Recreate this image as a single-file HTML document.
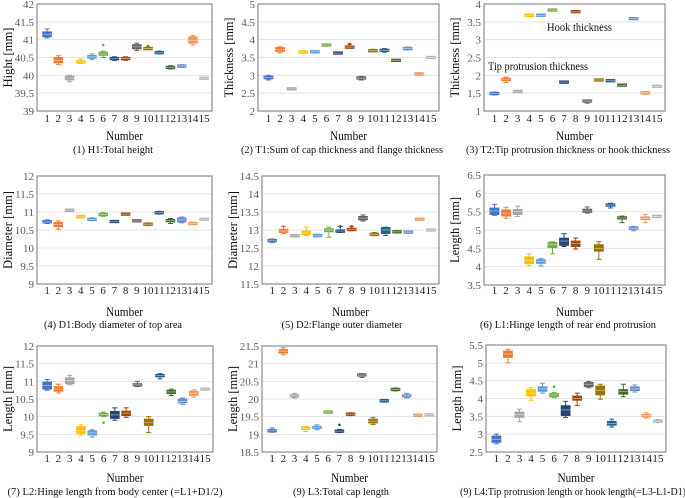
<!DOCTYPE html>
<html><head><meta charset="utf-8"><style>
html,body{margin:0;padding:0;background:#fff;}
svg{display:block;}
svg text{font-family:"Liberation Serif","DejaVu Serif",serif;}
</style></head><body>
<svg id="fig" width="685" height="498" viewBox="0 0 685 498" font-family="Liberation Serif, serif" xmlns="http://www.w3.org/2000/svg"></svg>
<script>
const categories=['1','2','3','4','5','6','7','8','9','10','11','12','13','14','15'];
const colors=['#4472c4','#ed7d31','#a5a5a5','#ffc000','#5b9bd5','#70ad47','#264478','#9e480e','#636363','#997300','#255e91','#43682b','#698ed0','#f1975a','#b7b7b7'];
// [min,q1,median,q3,max]
const h1Stats=[[41.05,41.08,41.15,41.22,41.3],[40.3,40.35,40.42,40.5,40.55],[39.82,39.87,39.92,39.98,40.0],[40.33,40.35,40.37,40.4,40.45],[40.45,40.48,40.52,40.56,40.6],[40.5,40.56,40.6,40.65,40.68],[40.42,40.44,40.47,40.5,40.52],[40.42,40.44,40.47,40.5,40.52],[40.7,40.74,40.8,40.86,40.9],[40.72,40.73,40.75,40.77,40.8],[40.6,40.61,40.63,40.66,40.68],[40.18,40.2,40.22,40.24,40.27],[40.22,40.24,40.26,40.28,40.3],[40.85,40.9,40.98,41.08,41.12],[39.9,39.91,39.92,39.93,39.95]];
const t1Stats=[[2.87,2.9,2.94,2.98,3.0],[3.63,3.67,3.72,3.78,3.8],[2.6,2.61,2.62,2.63,2.64],[3.62,3.64,3.65,3.67,3.69],[3.64,3.65,3.66,3.67,3.68],[3.83,3.84,3.85,3.86,3.87],[3.6,3.61,3.62,3.64,3.65],[3.76,3.77,3.79,3.81,3.87],[2.87,2.9,2.92,2.95,2.97],[3.66,3.67,3.69,3.71,3.73],[3.65,3.67,3.7,3.73,3.75],[3.4,3.41,3.42,3.43,3.44],[3.71,3.73,3.75,3.77,3.79],[3.0,3.02,3.04,3.06,3.08],[3.48,3.49,3.5,3.51,3.52]];
const t2Stats=[[1.45,1.47,1.49,1.51,1.53],[1.8,1.85,1.89,1.92,1.95],[1.53,1.54,1.55,1.56,1.57],[3.65,3.67,3.68,3.7,3.72],[3.66,3.67,3.68,3.7,3.71],[3.81,3.82,3.83,3.84,3.85],[1.78,1.8,1.81,1.82,1.84],[3.76,3.77,3.78,3.8,3.81],[1.22,1.26,1.28,1.3,1.31],[1.84,1.86,1.87,1.88,1.89],[1.83,1.84,1.85,1.86,1.88],[1.7,1.71,1.72,1.74,1.75],[3.57,3.58,3.59,3.6,3.61],[1.47,1.49,1.51,1.53,1.54],[1.66,1.68,1.69,1.7,1.72]];
const d1Stats=[[10.68,10.7,10.72,10.76,10.78],[10.52,10.59,10.65,10.71,10.75],[11.03,11.04,11.05,11.06,11.07],[10.84,10.85,10.87,10.89,10.91],[10.76,10.77,10.79,10.82,10.84],[10.88,10.9,10.93,10.96,10.98],[10.71,10.72,10.73,10.75,10.76],[10.92,10.93,10.94,10.95,10.97],[10.73,10.74,10.75,10.77,10.78],[10.62,10.64,10.66,10.68,10.7],[10.94,10.96,10.98,11.0,11.02],[10.68,10.74,10.76,10.78,10.82],[10.7,10.72,10.78,10.84,10.86],[10.65,10.66,10.68,10.7,10.72],[10.78,10.79,10.8,10.81,10.83]];
const d2Stats=[[12.65,12.68,12.7,12.73,12.75],[12.9,12.93,12.97,13.02,13.1],[12.81,12.82,12.84,12.86,12.87],[12.85,12.87,12.92,12.97,13.08],[12.81,12.82,12.84,12.87,12.88],[12.8,12.95,13.0,13.04,13.08],[12.93,12.94,12.97,13.0,13.1],[12.98,12.99,13.01,13.04,13.1],[13.25,13.28,13.33,13.38,13.42],[12.84,12.85,12.88,12.91,12.93],[12.85,12.9,13.0,13.07,13.08],[12.92,12.93,12.95,12.97,12.98],[12.91,12.92,12.94,12.96,12.97],[13.28,13.29,13.3,13.31,13.32],[12.98,12.99,13.0,13.01,13.02]];
const l1Stats=[[5.4,5.42,5.52,5.6,5.7],[5.32,5.38,5.46,5.55,5.62],[5.37,5.42,5.5,5.56,5.65],[4.03,4.08,4.17,4.27,4.35],[4.02,4.09,4.14,4.19,4.22],[4.35,4.52,4.6,4.66,4.68],[4.55,4.58,4.7,4.78,4.9],[4.48,4.55,4.63,4.7,4.78],[5.46,5.48,5.52,5.57,5.63],[4.2,4.42,4.5,4.6,4.68],[5.6,5.65,5.68,5.71,5.73],[5.2,5.3,5.33,5.36,5.38],[4.98,5.02,5.04,5.08,5.1],[5.2,5.28,5.32,5.36,5.43],[5.34,5.35,5.37,5.39,5.4]];
const l2Stats=[[10.75,10.78,10.88,10.98,11.05],[10.67,10.72,10.78,10.85,10.92],[10.9,10.93,11.02,11.1,11.17],[9.48,9.53,9.6,9.72,9.77],[9.42,9.48,9.54,9.6,9.63],[10.0,10.02,10.06,10.1,10.13],[9.9,9.95,10.05,10.15,10.25],[9.98,10.03,10.1,10.16,10.25],[10.85,10.87,10.9,10.93,11.0],[9.55,9.75,9.83,9.93,10.0],[11.07,11.13,11.16,11.19,11.22],[10.6,10.65,10.7,10.75,10.78],[10.35,10.39,10.43,10.5,10.53],[10.55,10.6,10.66,10.72,10.76],[10.75,10.76,10.78,10.8,10.81]];
const l3Stats=[[19.06,19.07,19.1,19.13,19.18],[21.25,21.3,21.35,21.4,21.45],[20.03,20.06,20.09,20.12,20.16],[19.08,19.14,19.17,19.2,19.22],[19.13,19.16,19.19,19.23,19.27],[19.61,19.62,19.63,19.64,19.65],[19.05,19.06,19.09,19.12,19.14],[19.53,19.54,19.57,19.6,19.61],[20.61,20.65,20.68,20.71,20.72],[19.28,19.32,19.37,19.43,19.48],[19.91,19.93,19.95,19.97,19.99],[20.23,20.25,20.27,20.29,20.31],[20.03,20.06,20.09,20.12,20.16],[19.51,19.52,19.54,19.56,19.57],[19.52,19.53,19.55,19.57,19.58]];
const l4Stats=[[2.73,2.77,2.85,2.95,3.0],[5.0,5.15,5.25,5.33,5.38],[3.35,3.47,3.55,3.62,3.7],[3.95,4.07,4.15,4.25,4.3],[4.15,4.2,4.27,4.33,4.43],[4.02,4.05,4.1,4.14,4.17],[3.47,3.52,3.68,3.8,3.92],[3.8,3.95,4.0,4.07,4.15],[4.3,4.33,4.4,4.45,4.48],[3.98,4.1,4.23,4.35,4.4],[3.2,3.25,3.3,3.36,3.42],[4.05,4.12,4.2,4.25,4.4],[4.18,4.22,4.27,4.33,4.38],[3.45,3.48,3.52,3.56,3.6],[3.33,3.34,3.36,3.39,3.41]];
const h1Outliers=[[6,40.85],[10,40.82]];
const t1Outliers=[[8,3.88]];
const d2Outliers=[[2,13.1],[7,13.1],[8,13.1]];
const l2Outliers=[[6,9.83]];
const l3Outliers=[[7,19.27]];
const l4Outliers=[[6,4.33]];
const h1Ticks=['39','39.5','40','40.5','41','41.5','42'];
const t1Ticks=['2','2.5','3','3.5','4','4.5','5'];
const t2Ticks=['1','1.5','2','2.5','3','3.5','4'];
const d1Ticks=['9','9.5','10','10.5','11','11.5','12'];
const d2Ticks=['11.5','12','12.5','13','13.5','14','14.5'];
const l1Ticks=['3.5','4','4.5','5','5.5','6','6.5'];
const l2Ticks=['9','9.5','10','10.5','11','11.5','12'];
const l3Ticks=['18.5','19','19.5','20','20.5','21','21.5'];
const l4Ticks=['2.5','3','3.5','4','4.5','5','5.5'];

const NS='http://www.w3.org/2000/svg';
const svg=document.getElementById('fig');
const FF='"Liberation Serif", serif';
function mk(tag,attrs,parent){const e=document.createElementNS(NS,tag);for(const k in attrs)e.setAttribute(k,attrs[k]);if(tag==='text')e.style.fontFamily=FF;(parent||svg).appendChild(e);return e;}

const panels=[
 {id:'h1',stats:h1Stats,out:h1Outliers,ticks:h1Ticks,x0:37,x1:212,y0:4,y1:111,yt:'Hight [mm]',ytw:60,cap:'(1) H1:Total height',cx:113,cw:80},
 {id:'t1',stats:t1Stats,out:t1Outliers,ticks:t1Ticks,x0:258,x1:439,y0:4,y1:111,yt:'Thickness [mm]',ytw:80,cap:'(2) T1:Sum of cap thickness and flange thickness',cx:342,cw:202},
 {id:'t2',stats:t2Stats,out:[],ticks:t2Ticks,x0:484,x1:665,y0:4,y1:111,yt:'Thickness [mm]',ytw:80,cap:'(3) T2:Tip protrusion thickness or hook thickness',cx:568,cw:204},
 {id:'d1',stats:d1Stats,out:[],ticks:d1Ticks,x0:37,x1:212,y0:176,y1:284,yt:'Diameter [mm]',ytw:78,cap:'(4) D1:Body diameter of top area',cx:113,cw:138},
 {id:'d2',stats:d2Stats,out:d2Outliers,ticks:d2Ticks,x0:262,x1:439,y0:176,y1:284,yt:'Diameter [mm]',ytw:78,cap:'(5) D2:Flange outer diameter',cx:342,cw:121},
 {id:'l1',stats:l1Stats,out:[],ticks:l1Ticks,x0:484,x1:665,y0:175,y1:285,yt:'Length [mm]',ytw:66,cap:'(6) L1:Hinge length of rear end protrusion',cx:568,cw:176},
 {id:'l2',stats:l2Stats,out:l2Outliers,ticks:l2Ticks,x0:37,x1:213,y0:346,y1:452,yt:'Length [mm]',ytw:66,cap:'(7) L2:Hinge length from body center (=L1+D1/2)',cx:115,cw:215},
 {id:'l3',stats:l3Stats,out:l3Outliers,ticks:l3Ticks,x0:262,x1:437,y0:346,y1:452,yt:'Length [mm]',ytw:66,cap:'(9) L3:Total cap length',cx:341,cw:96},
 {id:'l4',stats:l4Stats,out:l4Outliers,ticks:l4Ticks,x0:486,x1:666,y0:345,y1:452,yt:'Length [mm]',ytw:66,cap:'(9) L4:Tip protrusion length or hook length(=L3-L1-D1)',cx:573,cw:226}
];
const rowText={4:[122,140,153],176:[294,316,328],175:[294,316,328],345:[462,482,495],346:[462,482,495]};

panels.forEach(p=>{
  const g=mk('g',{});
  
  
  const tv=p.ticks.map(Number);const vmin=tv[0],vmax=tv[tv.length-1];
  const yS=v=>p.y1-(v-vmin)/(vmax-vmin)*(p.y1-p.y0);
  const step=(p.x1-p.x0)/(categories.length+0.6);
  const xS=i=>p.x0+step*(i+0.9);
  const bw=step*0.78;
  p.ticks.forEach((t,i)=>{
    const y=yS(Number(t));
    if(i>0&&i<p.ticks.length-1){const gl=mk('line',{x1:p.x0,x2:p.x1,y1:y,y2:y,stroke:'#e3e3e3','stroke-width':1},g);}
    const tl=mk('text',{x:p.x0-3,y:y+4,'text-anchor':'end','font-size':11,fill:'#595959'},g);tl.textContent=t;
    
  });
  const fr=mk('rect',{x:p.x0,y:p.y0,width:p.x1-p.x0,height:p.y1-p.y0,fill:'none',stroke:'#8c8c8c','stroke-width':1.2},g);
  
  const rt=rowText[p.y0];
  p.stats.forEach((s,i)=>{
    const cx=xS(i),c=colors[i];
    const bg=mk('g',{},g);
    
    
    mk('line',{x1:cx,x2:cx,y1:yS(s[0]),y2:yS(s[4]),stroke:c,'stroke-width':1},bg);
    mk('line',{x1:cx-2.5,x2:cx+2.5,y1:yS(s[0]),y2:yS(s[0]),stroke:c,'stroke-width':1},bg);
    mk('line',{x1:cx-2.5,x2:cx+2.5,y1:yS(s[4]),y2:yS(s[4]),stroke:c,'stroke-width':1},bg);
    const h=Math.max(2.5,yS(s[1])-yS(s[3]));
    mk('rect',{x:cx-bw/2,y:(yS(s[1])+yS(s[3]))/2-h/2,width:bw,height:h,fill:c,stroke:c,'stroke-width':0.8},bg);
    mk('line',{x1:cx-bw/2,x2:cx+bw/2,y1:yS(s[2]),y2:yS(s[2]),stroke:'rgba(255,255,255,0.5)','stroke-width':0.8},bg);
    const lbl=mk('text',{x:cx,y:rt[0],'text-anchor':'middle','font-size':11,fill:'#222'},g);lbl.textContent=categories[i];
    if(i>=9)lbl.setAttribute('textLength',step*0.98),lbl.setAttribute('lengthAdjust','spacingAndGlyphs');
    
  });
  p.out.forEach(o=>{
    const d=mk('circle',{cx:xS(o[0]-1),cy:yS(o[1]),r:1.3,fill:colors[o[0]-1]},g);
    
  });
  const cxm=(p.x0+p.x1)/2;
  const xt=mk('text',{x:cxm,y:rt[1],'text-anchor':'middle','font-size':13,fill:'#111',textLength:37,lengthAdjust:'spacingAndGlyphs'},g);xt.textContent='Number';
  
  const cp=mk('text',{x:p.cx,y:rt[2],'text-anchor':'middle','font-size':10,fill:'#111',textLength:p.cw,lengthAdjust:'spacingAndGlyphs'},g);cp.textContent=p.cap;
  
  const ym=(p.y0+p.y1)/2,yx=p.x0-25;
  const yt=mk('text',{x:yx,y:ym,'text-anchor':'middle','font-size':13,fill:'#111',textLength:p.ytw,lengthAdjust:'spacingAndGlyphs',transform:'rotate(-90 '+yx+' '+ym+')'},g);yt.textContent=p.yt;
  
  if(p.id==='t2'){
    const a=mk('text',{x:547,y:31,'font-size':11.5,fill:'#111',textLength:65,lengthAdjust:'spacingAndGlyphs'},g);a.textContent='Hook thickness';
    
    const b=mk('text',{x:488,y:70,'font-size':11.5,fill:'#111',textLength:100,lengthAdjust:'spacingAndGlyphs'},g);b.textContent='Tip protrusion thickness';
    
  }
});
</script>
</body></html>
